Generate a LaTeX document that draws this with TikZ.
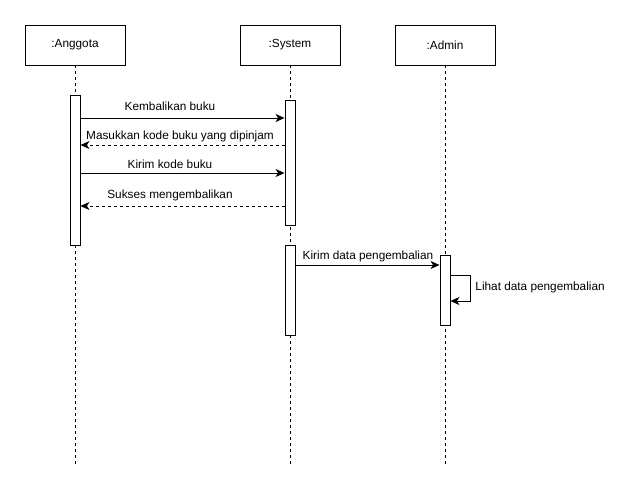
\documentclass[tikz,border=0pt]{standalone}
\usepackage{fontspec}
\setmainfont{Liberation Sans}
\usetikzlibrary{arrows.meta}
\begin{document}
\begin{tikzpicture}[x=1pt,y=-1pt,line width=0.9pt,
  font=\fontsize{11.8}{14}\selectfont,
  actor/.style={draw,fill=white,minimum width=100pt,minimum height=40pt,inner sep=0pt},
  bar/.style={draw,fill=white,minimum width=10pt,inner sep=0pt},
  life/.style={dash pattern=on 3pt off 3pt},
  msg/.style={-{Stealth[length=9pt,width=8pt,inset=2.5pt]}},
  reply/.style={msg,dash pattern=on 3pt off 3pt},
  lbl/.style={inner sep=0pt,anchor=base}]
\useasboundingbox (0,0) rectangle (641,491);

% participants
\node[actor] (pA) at (75,45) {:Anggota};
\node[actor] (pS) at (290,45) {:System};
\node[actor] (pD) at (445,45) {:Admin};

% lifelines
\coordinate (eA) at (75,465);
\coordinate (eS) at (290,465);
\coordinate (eD) at (445,465);
\draw[life] (pA.south) -- (eA);
\draw[life] (pS.south) -- (eS);
\draw[life] (pD.south) -- (eD);

% activation bars
\node[bar,minimum height=150pt] (aA) at (75,170) {};
\node[bar,minimum height=125pt] (aS1) at (290,162.5) {};
\node[bar,minimum height=90pt] (aS2) at (290,290) {};
\node[bar,minimum height=70pt] (aD) at (445,290) {};

% messages
\draw[msg] (aA.east |- 0,118) -- (aS1.west |- 0,118);
\node[lbl] (l1) at (170,110) {Kembalikan buku};
\draw[reply] (aS1.west |- 0,145) -- (aA.east |- 0,145);
\node[lbl] (l2) at (180,139) {Masukkan kode buku yang dipinjam};
\draw[msg] (aA.east |- 0,173) -- (aS1.west |- 0,173);
\node[lbl] (l3) at (170,168.5) {Kirim kode buku};
\draw[reply] (aS1.west |- 0,206) -- (aA.east |- 0,206);
\node[lbl] (l4) at (170,198.5) {Sukses mengembalikan};
\draw[msg] (aS2.east |- 0,265) -- (aD.west |- 0,265);
\node[lbl] (l5) at (368,259) {Kirim data pengembalian};

% self message
\draw[msg] (aD.east |- 0,275) -- (470,275) -- (470,301) -- (aD.east |- 0,301);
\node[lbl,anchor=base west] (l6) at (475,290) {Lihat data pengembalian};
\end{tikzpicture}
\end{document}
